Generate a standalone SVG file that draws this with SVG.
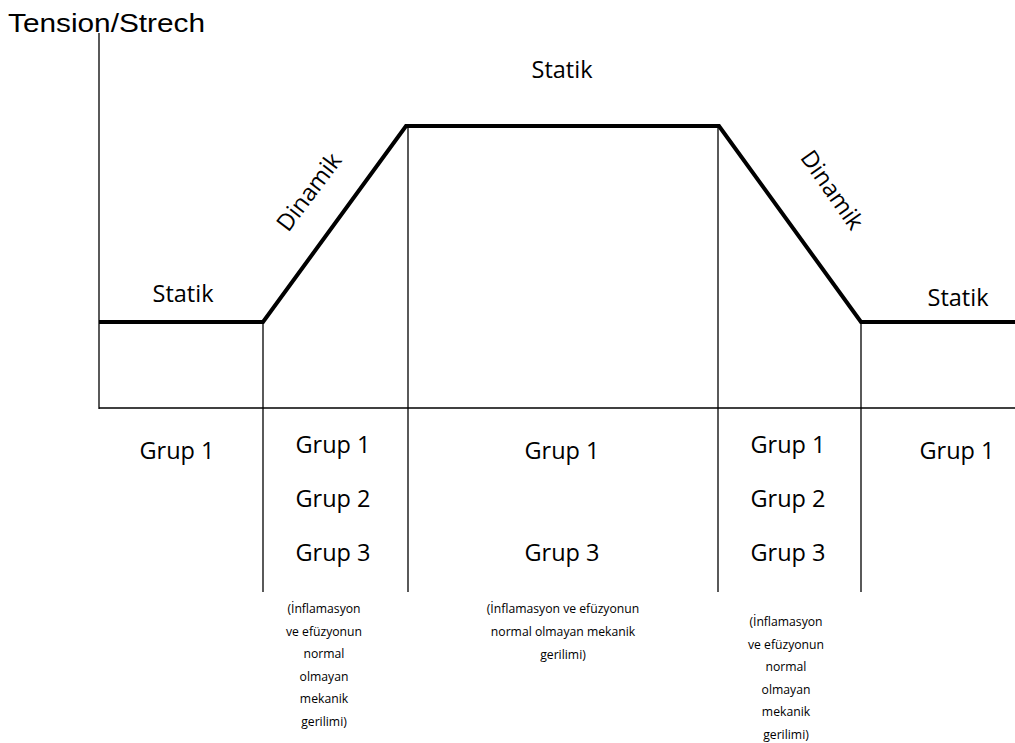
<svg xmlns="http://www.w3.org/2000/svg" width="1015" height="743" viewBox="0 0 1015 743">
<style>
.lbl{font-family:"Open Sans",Lato,"Liberation Sans",sans-serif;font-size:23.5px;fill:#000;text-anchor:middle}
.sm{font-family:"Open Sans",Lato,"Liberation Sans",sans-serif;font-size:12.2px;fill:#000;text-anchor:middle}
.thin{stroke:#000;stroke-width:1.3;fill:none}
.thick{stroke:#000;stroke-width:4;fill:none;stroke-linejoin:miter}
</style>
<rect width="1015" height="743" fill="#fff"/>
<g id="connectors">
<line class="thin" x1="99" y1="33" x2="99" y2="409"/>
<line class="thin" x1="99" y1="408" x2="1015" y2="408"/>
<line class="thin" x1="263" y1="322" x2="263" y2="592"/>
<line class="thin" x1="408" y1="126" x2="408" y2="592"/>
<line class="thin" x1="718" y1="126" x2="718" y2="592"/>
<line class="thin" x1="861" y1="322" x2="861" y2="592"/>
<polyline class="thick" points="99,322 263,322 406,126 719,126 861,322 1015,322"/>
</g>
<g id="axis-label"><text x="8" y="32" font-family="'Liberation Sans',Arial,sans-serif" font-size="26" textLength="197" lengthAdjust="spacingAndGlyphs">Tension/Strech</text></g>
<g id="phase-labels">
<text class="lbl" x="562" y="78">Statik</text>
<text class="lbl" x="183" y="302">Statik</text>
<text class="lbl" x="958" y="306">Statik</text>
<text class="lbl" transform="translate(309,192) rotate(-53)" dy="8">Dinamik</text>
<text class="lbl" transform="translate(832,190) rotate(55)" dy="8">Dinamik</text>
</g>
<g id="col1"><text class="lbl" x="177" y="459">Grup 1</text></g>
<g id="col2">
<text class="lbl" x="333" y="453">Grup 1</text>
<text class="lbl" x="333" y="507">Grup 2</text>
<text class="lbl" x="333" y="561">Grup 3</text>
<text class="sm" x="324" y="613">(İnflamasyon</text>
<text class="sm" x="324" y="636">ve efüzyonun</text>
<text class="sm" x="324" y="658">normal</text>
<text class="sm" x="324" y="681">olmayan</text>
<text class="sm" x="324" y="703">mekanik</text>
<text class="sm" x="324" y="726">gerilimi)</text>
</g>
<g id="col3">
<text class="lbl" x="562" y="459">Grup 1</text>
<text class="lbl" x="562" y="561">Grup 3</text>
<text class="sm" x="563" y="613">(İnflamasyon ve efüzyonun</text>
<text class="sm" x="563" y="636">normal olmayan mekanik</text>
<text class="sm" x="563" y="659">gerilimi)</text>
</g>
<g id="col4">
<text class="lbl" x="788" y="453">Grup 1</text>
<text class="lbl" x="788" y="507">Grup 2</text>
<text class="lbl" x="788" y="561">Grup 3</text>
<text class="sm" x="786" y="626">(İnflamasyon</text>
<text class="sm" x="786" y="649">ve efüzyonun</text>
<text class="sm" x="786" y="671">normal</text>
<text class="sm" x="786" y="694">olmayan</text>
<text class="sm" x="786" y="716">mekanik</text>
<text class="sm" x="786" y="739">gerilimi)</text>
</g>
<g id="col5"><text class="lbl" x="957" y="459">Grup 1</text></g>
</svg>
